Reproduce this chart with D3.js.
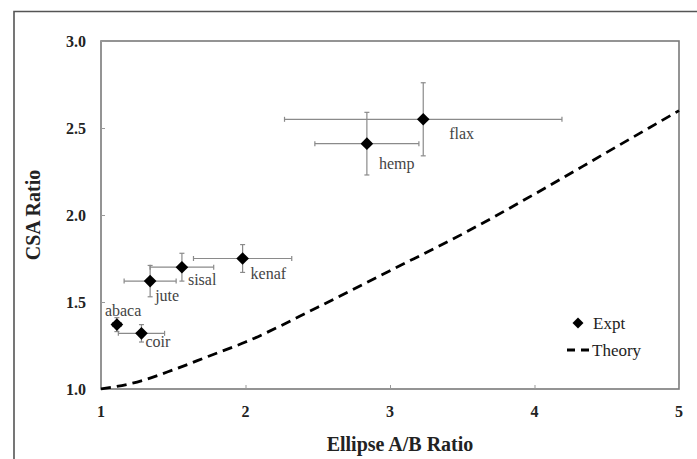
<!DOCTYPE html>
<html>
<head>
<meta charset="utf-8">
<script src="https://cdn.jsdelivr.net/npm/d3@7"></script>
<style>
  body { margin: 0; background: #fff; }
  svg { display: block; }
</style>
</head>
<body>
<div class="chart"></div>
<script>
// fibre data
const fibres = ['abaca', 'coir', 'jute', 'sisal', 'kenaf', 'hemp', 'flax'];
const ellipseRatio = [1.11, 1.28, 1.34, 1.56, 1.98, 2.84, 3.23];
const csaRatio = [1.37, 1.32, 1.62, 1.70, 1.75, 2.41, 2.55];
const ellipseErr = [0.03, 0.16, 0.18, 0.22, 0.34, 0.36, 0.96];
const csaErr = [0.04, 0.05, 0.09, 0.08, 0.08, 0.18, 0.21];

// theory curve
const theoryX = [1, 1.25, 1.5, 1.75, 2, 2.5, 3, 3.5, 4, 4.5, 5];
const theoryY = [1.0, 1.04, 1.11, 1.19, 1.27, 1.47, 1.68, 1.89, 2.12, 2.36, 2.6];

const xTicks = [1, 2, 3, 4, 5];
const yTicks = [1.0, 1.5, 2.0, 2.5, 3.0];

// label offsets (px) from each point
const labelOffset = {
  abaca: [-12, -14], coir: [4, 8], jute: [5, 14], sisal: [6, 12],
  kenaf: [8, 15], hemp: [12, 20], flax: [26, 14]
};

const width = 697;
const height = 459;
const margin = {top: 41, left: 101, right: 18, bottom: 70};
const serif = '"Liberation Serif", "Times New Roman", serif';

const svg = d3.select('.chart').append('svg')
  .attr('width', width).attr('height', height);

// outer frame (top and left edges visible)
svg.append('path')
  .attr('d', `M14,${height} L14,11.5 L${width},11.5`)
  .attr('fill', 'none')
  .attr('stroke', '#555')
  .attr('stroke-width', 1.6);

const x = d3.scaleLinear().domain([1, 5]).range([margin.left, width - margin.right]);
const y = d3.scaleLinear().domain([1, 3]).range([height - margin.bottom, margin.top]);

const data = fibres.map((name, i) => ({
  name: name, x: ellipseRatio[i], y: csaRatio[i], ex: ellipseErr[i], ey: csaErr[i]
}));

// plot border
svg.append('rect')
  .attr('x', x(1)).attr('y', y(3))
  .attr('width', x(5) - x(1)).attr('height', y(1) - y(3))
  .attr('fill', 'none')
  .attr('stroke', '#7a7a7a')
  .attr('stroke-width', 1.6);

// axes: ticks point inward, labels bold
const xAxis = svg.append('g')
  .attr('transform', `translate(0, ${y(1)})`)
  .call(d3.axisTop(x).tickValues(xTicks).tickSize(4).tickFormat(''));
xAxis.select('.domain').remove();
xAxis.selectAll('line').attr('stroke', '#999');

svg.selectAll('.xlabel').data(xTicks).enter()
  .append('text')
  .attr('class', 'xlabel')
  .attr('x', d => x(d))
  .attr('y', y(1) + 28)
  .attr('text-anchor', 'middle')
  .attr('font-family', serif)
  .attr('font-weight', 'bold')
  .attr('font-size', 16)
  .attr('fill', '#222')
  .text(d => d3.format('d')(d));

const yAxis = svg.append('g')
  .attr('transform', `translate(${x(1)}, 0)`)
  .call(d3.axisRight(y).tickValues(yTicks).tickSize(4).tickFormat(''));
yAxis.select('.domain').remove();
yAxis.selectAll('line').attr('stroke', '#999');

svg.selectAll('.ylabel').data(yTicks).enter()
  .append('text')
  .attr('class', 'ylabel')
  .attr('x', x(1) - 15)
  .attr('y', d => y(d))
  .attr('dy', '0.35em')
  .attr('text-anchor', 'end')
  .attr('font-family', serif)
  .attr('font-weight', 'bold')
  .attr('font-size', 16)
  .attr('fill', '#222')
  .text(d => d3.format('.1f')(d));

// axis titles
svg.append('text')
  .attr('x', 400)
  .attr('y', 444)
  .attr('dy', '0.35em')
  .attr('text-anchor', 'middle')
  .attr('font-family', serif)
  .attr('font-weight', 'bold')
  .attr('font-size', 20)
  .attr('fill', '#222')
  .text('Ellipse A/B Ratio');

svg.append('text')
  .attr('transform', `translate(33, ${(y(1) + y(3)) / 2}) rotate(-90)`)
  .attr('dy', '0.35em')
  .attr('text-anchor', 'middle')
  .attr('font-family', serif)
  .attr('font-weight', 'bold')
  .attr('font-size', 20)
  .attr('fill', '#222')
  .text('CSA Ratio');

// theory curve
const theory = theoryX.map((v, i) => [v, theoryY[i]]);
svg.append('path')
  .datum(theory)
  .attr('fill', 'none')
  .attr('stroke', '#000')
  .attr('stroke-width', 2.8)
  .attr('stroke-dasharray', '10,6')
  .attr('d', d3.line().x(d => x(d[0])).y(d => y(d[1])).curve(d3.curveMonotoneX));

// error bars
const errColor = '#8a8a8a';
const cap = 2.5;
const bars = svg.selectAll('.err').data(data).enter().append('g').attr('class', 'err')
  .attr('stroke', errColor).attr('stroke-width', 1.2);
bars.append('line')
  .attr('x1', d => x(d.x - d.ex)).attr('x2', d => x(d.x + d.ex))
  .attr('y1', d => y(d.y)).attr('y2', d => y(d.y));
bars.append('line')
  .attr('x1', d => x(d.x)).attr('x2', d => x(d.x))
  .attr('y1', d => y(d.y - d.ey)).attr('y2', d => y(d.y + d.ey));
bars.append('line')
  .attr('x1', d => x(d.x - d.ex)).attr('x2', d => x(d.x - d.ex))
  .attr('y1', d => y(d.y) - cap).attr('y2', d => y(d.y) + cap);
bars.append('line')
  .attr('x1', d => x(d.x + d.ex)).attr('x2', d => x(d.x + d.ex))
  .attr('y1', d => y(d.y) - cap).attr('y2', d => y(d.y) + cap);
bars.append('line')
  .attr('x1', d => x(d.x) - cap).attr('x2', d => x(d.x) + cap)
  .attr('y1', d => y(d.y - d.ey)).attr('y2', d => y(d.y - d.ey));
bars.append('line')
  .attr('x1', d => x(d.x) - cap).attr('x2', d => x(d.x) + cap)
  .attr('y1', d => y(d.y + d.ey)).attr('y2', d => y(d.y + d.ey));

// diamond markers
const diamond = d3.symbol().type(d3.symbolSquare).size(80);
svg.selectAll('.pt').data(data).enter()
  .append('path')
  .attr('class', 'pt')
  .attr('d', diamond)
  .attr('transform', d => `translate(${x(d.x)}, ${y(d.y)}) rotate(45)`)
  .attr('fill', '#000');

// point labels
svg.selectAll('.label').data(data).enter()
  .append('text')
  .attr('class', 'label')
  .attr('x', d => x(d.x) + labelOffset[d.name][0])
  .attr('y', d => y(d.y) + labelOffset[d.name][1])
  .attr('dy', '0.35em')
  .attr('font-family', serif)
  .attr('font-size', 16)
  .attr('fill', '#444')
  .text(d => d.name);

// legend
const legend = svg.append('g').attr('transform', 'translate(578, 323)');
legend.append('path')
  .attr('d', d3.symbol().type(d3.symbolSquare).size(60))
  .attr('transform', 'rotate(45)')
  .attr('fill', '#000');
legend.append('text')
  .attr('x', 15).attr('dy', '0.35em')
  .attr('font-family', serif).attr('font-size', 17).attr('fill', '#222')
  .text('Expt');
legend.append('line')
  .attr('x1', -11).attr('x2', 14).attr('y1', 27).attr('y2', 27)
  .attr('stroke', '#000').attr('stroke-width', 2.8)
  .attr('stroke-dasharray', '8,6');
legend.append('text')
  .attr('x', 14).attr('y', 27).attr('dy', '0.35em')
  .attr('font-family', serif).attr('font-size', 17).attr('fill', '#222')
  .text('Theory');
</script>
</body>
</html>
